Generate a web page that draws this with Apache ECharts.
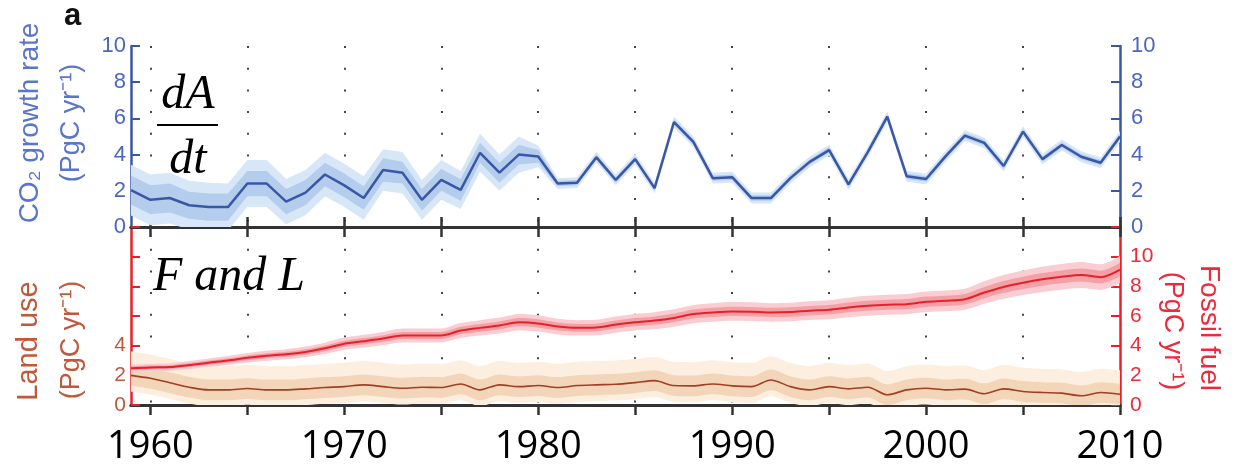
<!DOCTYPE html>
<html>
<head>
<meta charset="utf-8">
<script src="https://cdn.jsdelivr.net/npm/echarts@6/dist/echarts.min.js"></script>
<style>
  html, body { margin: 0; padding: 0; background: #fff; }
  #chart { width: 1234px; height: 466px; }
</style>
</head>
<body>
<div id="chart"></div>
<script>
// Years 1959–2010 (annual)
const years = [];
for (let y = 1959; y <= 2010; y++) years.push(String(y));

// Atmospheric CO2 growth rate, PgC per year
const co2Rate = [
  2.04, 1.5, 1.6, 1.2, 1.1, 1.1, 2.4, 2.4, 1.4, 1.9,
  2.9, 2.3, 1.6, 3.15, 3.0, 1.5, 2.6, 2.05, 4.1, 3.0,
  4.0, 3.9, 2.4, 2.45, 3.85, 2.6, 3.75, 2.15, 5.8, 4.7,
  2.7, 2.75, 1.6, 1.6, 2.7, 3.6, 4.25, 2.35, 4.15, 6.1,
  2.8, 2.65, 3.9, 5.05, 4.65, 3.37, 5.27, 3.75, 4.53, 3.88,
  3.55, 5.0
];
// Half-widths of the CO2 uncertainty envelopes (outer and inner)
const co2Outer = [
  1.4, 1.4, 1.4, 1.35, 1.35, 1.3, 1.3, 1.3, 1.25, 1.25,
  1.2, 1.2, 1.2, 1.15, 1.15, 1.1, 1.1, 1.05, 1.05, 1.0,
  1.0, 0.6, 0.3, 0.3, 0.3, 0.3, 0.3, 0.3, 0.3, 0.3,
  0.3, 0.3, 0.3, 0.3, 0.3, 0.3, 0.3, 0.3, 0.3, 0.3,
  0.3, 0.3, 0.3, 0.3, 0.3, 0.3, 0.3, 0.3, 0.3, 0.3,
  0.3, 0.3
];
const co2Inner = [
  0.8, 0.8, 0.8, 0.75, 0.75, 0.75, 0.7, 0.7, 0.7, 0.7,
  0.65, 0.65, 0.65, 0.65, 0.6, 0.6, 0.6, 0.6, 0.55, 0.55,
  0.55, 0.35, 0.15, 0.15, 0.15, 0.15, 0.15, 0.15, 0.15, 0.15,
  0.15, 0.15, 0.15, 0.15, 0.15, 0.15, 0.15, 0.15, 0.15, 0.15,
  0.15, 0.15, 0.15, 0.15, 0.15, 0.15, 0.15, 0.15, 0.15, 0.15,
  0.15, 0.15
];

// Fossil fuel emissions, PgC per year
const fossilFuel = [
  2.47, 2.53, 2.56, 2.69, 2.85, 3.0, 3.18, 3.32, 3.42, 3.58,
  3.82, 4.13, 4.3, 4.48, 4.69, 4.69, 4.69, 5.02, 5.2, 5.36,
  5.58, 5.5, 5.29, 5.2, 5.22, 5.42, 5.58, 5.69, 5.87, 6.13,
  6.24, 6.31, 6.29, 6.24, 6.27, 6.36, 6.42, 6.58, 6.69, 6.76,
  6.8, 6.96, 7.02, 7.13, 7.58, 7.96, 8.24, 8.47, 8.64, 8.76,
  8.62, 9.13
];
// Relative uncertainty of fossil emissions (1σ and 2σ)
const fossilSigma1 = 0.05;
const fossilSigma2 = 0.10;

// Land use change emissions, PgC per year
const landUse = [
  2.0, 1.8, 1.5, 1.2, 1.02, 1.02, 1.11, 1.02, 1.02, 1.09,
  1.18, 1.24, 1.36, 1.24, 1.13, 1.2, 1.18, 1.42, 1.02, 1.36,
  1.24, 1.31, 1.18, 1.31, 1.36, 1.4, 1.51, 1.64, 1.31, 1.29,
  1.42, 1.29, 1.24, 1.69, 1.24, 1.02, 1.24, 1.09, 1.2, 0.69,
  1.02, 1.13, 1.02, 1.07, 0.76, 1.09, 0.91, 0.84, 0.8, 0.62,
  0.84, 0.73
];
// Land use uncertainty, PgC per year
const landInner = 0.7;
const landOuterUp = 1.6;
const landOuterDown = 1.1;

const BLUE = '#3a57a6';
const BLUE_TXT = '#4a66c2';
const RED = '#e8202a';
const RED_TXT = '#ee2a3a';
const BROWN_TXT = '#c0583c';
const FRAME = '#333333';

const isTick = v => Number(v) % 5 === 0;
const isGrid = v => Number(v) % 5 === 0 && Number(v) > 1959 && Number(v) < 2010;
const isDecade = v => Number(v) % 10 === 0;

// Stacked pair of line series that fills the envelope [lo, hi]
function band(id, xIdx, yIdx, lo, hi, color, smooth, z) {
  const common = {
    type: 'line', xAxisIndex: xIdx, yAxisIndex: yIdx, stack: id,
    stackStrategy: 'all', symbol: 'none', silent: true, smooth: smooth,
    lineStyle: { width: 0, opacity: 0 }, z: z
  };
  return [
    Object.assign({}, common, { name: id + '-base', data: lo }),
    Object.assign({}, common, {
      name: id + '-fill',
      data: hi.map((h, i) => h - lo[i]),
      areaStyle: { color: color, opacity: 1 }
    })
  ];
}

const co2Lo2 = co2Rate.map((v, i) => v - co2Outer[i]);
const co2Hi2 = co2Rate.map((v, i) => v + co2Outer[i]);
const co2Lo1 = co2Rate.map((v, i) => v - co2Inner[i]);
const co2Hi1 = co2Rate.map((v, i) => v + co2Inner[i]);

const ffLo2 = fossilFuel.map(v => v * (1 - fossilSigma2));
const ffHi2 = fossilFuel.map(v => v * (1 + fossilSigma2));
const ffLo1 = fossilFuel.map(v => v * (1 - fossilSigma1));
const ffHi1 = fossilFuel.map(v => v * (1 + fossilSigma1));

const luLo2 = landUse.map(v => v - landOuterDown);
const luHi2 = landUse.map(v => v + landOuterUp);
const luLo1 = landUse.map(v => v - landInner);
const luHi1 = landUse.map(v => v + landInner);

const LABEL_FONT = 'Liberation Sans';

function xAxisBase(grid, position, opts) {
  return Object.assign({
    type: 'category', data: years, gridIndex: grid, position: position,
    boundaryGap: false,
    axisLine: { show: true, lineStyle: { color: FRAME, width: 3 } },
    axisTick: { show: true, inside: true, length: 10, interval: (i, v) => isTick(v),
      lineStyle: { color: FRAME, width: 2.5 } },
    axisLabel: { show: false },
    splitLine: { show: false }
  }, opts || {});
}

const dotted = {
  show: true, interval: (i, v) => isGrid(v),
  lineStyle: { color: '#444', width: 2, type: [2, 19.7] }
};

const option = {
  animation: false,
  backgroundColor: '#ffffff',
  grid: [
    { left: 131, right: 114, top: 46, height: 181 },
    { left: 131, right: 114, top: 227, height: 180 }
  ],
  xAxis: [
    xAxisBase(0, 'bottom', { splitLine: dotted }),
    xAxisBase(0, 'top'),
    xAxisBase(1, 'top'),
    xAxisBase(1, 'bottom', {
      splitLine: dotted,
      axisTick: { show: true, inside: false, length: 10, interval: (i, v) => isTick(v),
        lineStyle: { color: FRAME, width: 2.5 } },
      axisLabel: {
        show: true, interval: (i, v) => isDecade(v), margin: 23,
        fontFamily: 'Open Sans', fontSize: 38, color: '#000'
      }
    })
  ],
  yAxis: [
    {
      type: 'value', gridIndex: 0, position: 'left', min: 0, max: 10, interval: 2,
      axisLine: { show: true, lineStyle: { color: BLUE, width: 2.5 } },
      axisTick: { show: true, inside: true, length: 9, lineStyle: { color: BLUE, width: 2 } },
      axisLabel: { color: BLUE_TXT, fontFamily: LABEL_FONT, fontSize: 22, margin: 5 },
      splitLine: { show: false }
    },
    {
      type: 'value', gridIndex: 0, position: 'right', min: 0, max: 10, interval: 2,
      axisLine: { show: true, lineStyle: { color: BLUE, width: 2.5 } },
      axisTick: { show: true, inside: true, length: 9, lineStyle: { color: BLUE, width: 2 } },
      axisLabel: { color: BLUE_TXT, fontFamily: LABEL_FONT, fontSize: 22, margin: 11 },
      splitLine: { show: false }
    },
    {
      type: 'value', gridIndex: 1, position: 'left', min: 0, max: 12, interval: 2,
      axisLine: { show: true, lineStyle: { color: RED, width: 2.5 } },
      axisTick: { show: true, inside: true, length: 9, lineStyle: { color: RED, width: 2 } },
      axisLabel: { color: BROWN_TXT, fontFamily: LABEL_FONT, fontSize: 21, margin: 5,
        formatter: v => (v <= 4 ? String(v) : '') },
      splitLine: { show: false }
    },
    {
      type: 'value', gridIndex: 1, position: 'right', min: 0, max: 12, interval: 2,
      axisLine: { show: true, lineStyle: { color: RED, width: 2.5 } },
      axisTick: { show: true, inside: true, length: 9, lineStyle: { color: RED, width: 2 } },
      axisLabel: { color: RED_TXT, fontFamily: LABEL_FONT, fontSize: 21, margin: 10,
        formatter: v => (v <= 10 ? String(v) : '') },
      splitLine: { show: false }
    }
  ],
  series: [].concat(
    band('co2o', 0, 0, co2Lo2, co2Hi2, '#d8e7f7', false, 2),
    band('co2i', 0, 0, co2Lo1, co2Hi1, '#b4cdec', false, 3),
    [{
      name: 'CO2 growth rate', type: 'line', xAxisIndex: 0, yAxisIndex: 0,
      data: co2Rate, symbol: 'none', z: 5,
      lineStyle: { color: BLUE, width: 2.5 }
    }],
    band('luo', 3, 2, luLo2, luHi2, '#fcefdf', 0.3, 2),
    band('lui', 3, 2, luLo1, luHi1, '#f3d6b9', 0.3, 3),
    [{
      name: 'Land use', type: 'line', xAxisIndex: 3, yAxisIndex: 2,
      data: landUse, symbol: 'none', smooth: 0.3, z: 4,
      lineStyle: { color: '#a03e26', width: 1.6 }
    }],
    band('ffo', 3, 3, ffLo2, ffHi2, '#f9cdd1', 0.3, 5),
    band('ffi', 3, 3, ffLo1, ffHi1, '#f3a0a7', 0.3, 6),
    [{
      name: 'Fossil fuel', type: 'line', xAxisIndex: 3, yAxisIndex: 3,
      data: fossilFuel, symbol: 'none', smooth: 0.3, z: 7,
      lineStyle: { color: RED, width: 2 }
    }]
  ),
  graphic: [
    { type: 'text', left: 64, top: 1, style: { text: 'a', font: 'bold 31px "Liberation Sans"', fill: '#111' } },
    // Axis titles
    { type: 'text', x: 30, y: 123, rotation: Math.PI / 2,
      style: { text: 'CO₂ growth rate', font: '28px "Liberation Sans"', fill: '#5a76cc',
        textAlign: 'center', textVerticalAlign: 'middle' } },
    { type: 'text', x: 72, y: 123, rotation: Math.PI / 2,
      style: { text: '(PgC yr⁻¹)', font: '27px "Liberation Sans"', fill: '#5a76cc',
        textAlign: 'center', textVerticalAlign: 'middle' } },
    { type: 'text', x: 29, y: 341, rotation: Math.PI / 2,
      style: { text: 'Land use', font: '29px "Liberation Sans"', fill: BROWN_TXT,
        textAlign: 'center', textVerticalAlign: 'middle' } },
    { type: 'text', x: 72, y: 340, rotation: Math.PI / 2,
      style: { text: '(PgC yr⁻¹)', font: '27px "Liberation Sans"', fill: BROWN_TXT,
        textAlign: 'center', textVerticalAlign: 'middle' } },
    { type: 'text', x: 1209, y: 328, rotation: -Math.PI / 2,
      style: { text: 'Fossil fuel', font: '28px "Liberation Sans"', fill: RED_TXT,
        textAlign: 'center', textVerticalAlign: 'middle' } },
    { type: 'text', x: 1172, y: 331, rotation: -Math.PI / 2,
      style: { text: '(PgC yr⁻¹)', font: '27px "Liberation Sans"', fill: RED_TXT,
        textAlign: 'center', textVerticalAlign: 'middle' } },
    // Panel annotations
    { type: 'text', x: 188, y: 95, z: 20,
      style: { text: 'dA', font: 'italic 48px "Liberation Serif"', fill: '#000',
        textAlign: 'center', textVerticalAlign: 'middle' } },
    { type: 'line', z: 20, shape: { x1: 157, y1: 125, x2: 218, y2: 125 },
      style: { stroke: '#000', lineWidth: 2 } },
    { type: 'text', x: 188, y: 160, z: 20,
      style: { text: 'dt', font: 'italic 48px "Liberation Serif"', fill: '#000',
        textAlign: 'center', textVerticalAlign: 'middle' } },
    { type: 'text', x: 153, y: 277, z: 20,
      style: { text: 'F and L', font: 'italic 48px "Liberation Serif"', fill: '#000',
        textAlign: 'left', textVerticalAlign: 'middle' } }
  ]
};

const chart = echarts.init(document.getElementById('chart'), null, { renderer: 'canvas' });
chart.setOption(option);
</script>
</body>
</html>
